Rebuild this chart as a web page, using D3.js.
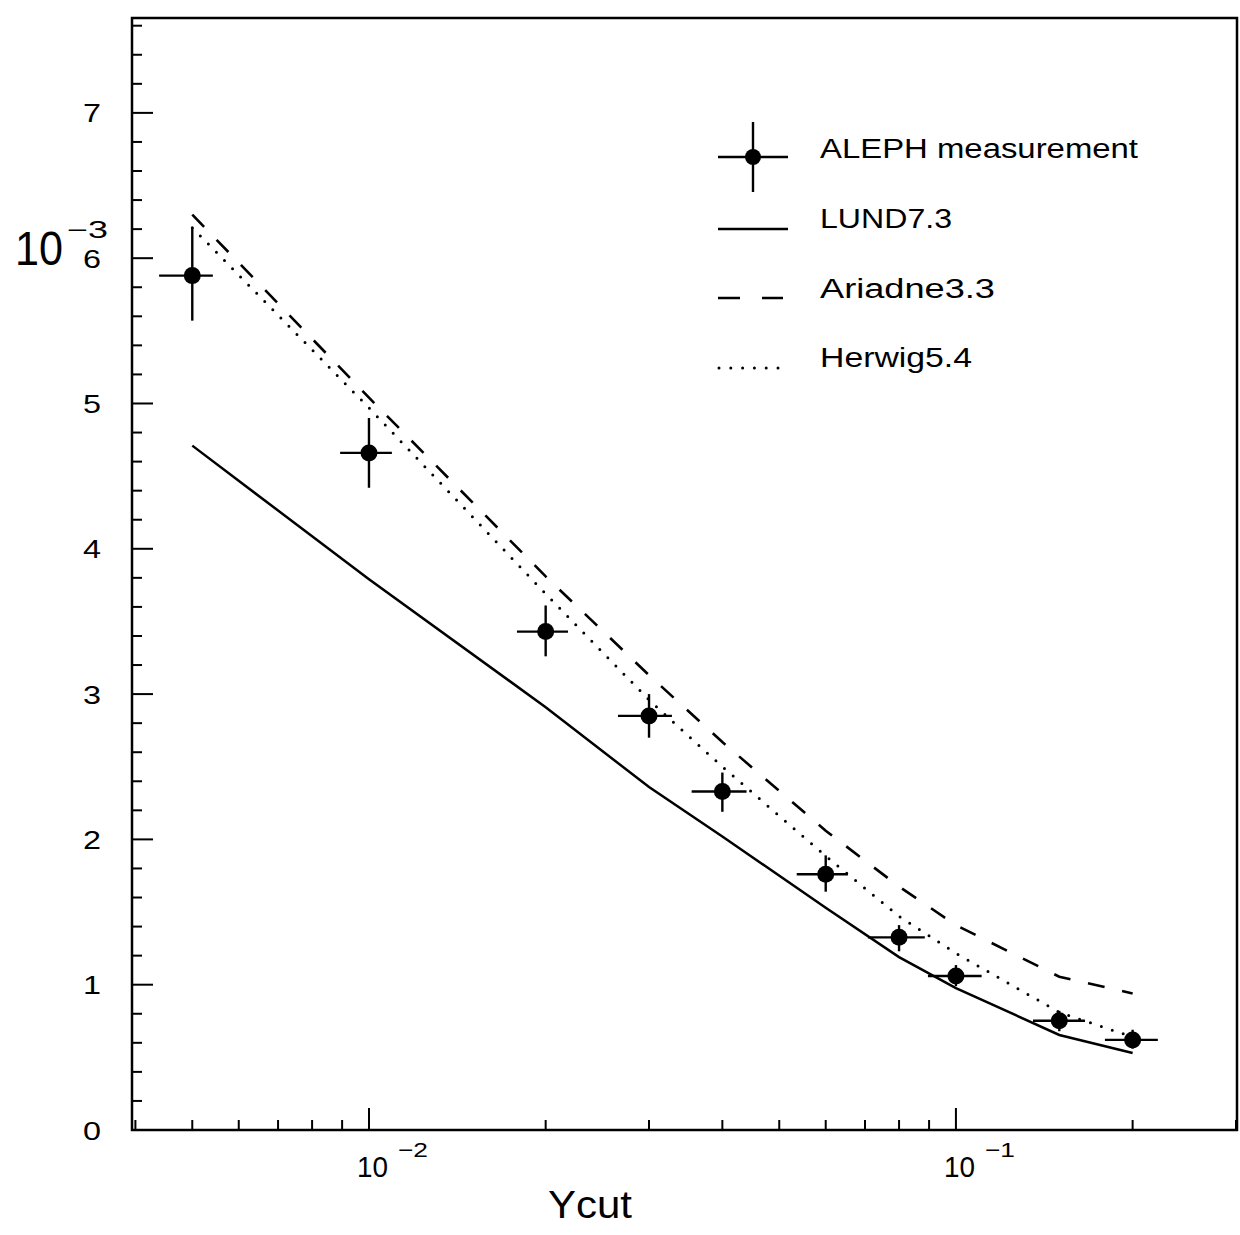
<!DOCTYPE html>
<html><head><meta charset="utf-8">
<script src="https://cdn.jsdelivr.net/npm/d3@7/dist/d3.min.js"></script>
<style>body{margin:0;background:#fff}svg{display:block}text{font-family:"Liberation Sans",Arial,sans-serif;fill:#000}</style>
</head><body><svg id="c" width="1240" height="1235"></svg>
<script>
// ---- data ----
const ycut = [0.005,0.01,0.02,0.03,0.04,0.06,0.08,0.1,0.15,0.2];
const aleph = [5.88,4.66,3.43,2.85,2.33,1.76,1.326,1.06,0.752,0.62];
const alephHi = [6.21,4.90,3.61,3.00,2.46,1.89,1.41,1.135,0.82,0.69];
const alephLo = [5.57,4.42,3.26,2.70,2.19,1.64,1.23,0.99,0.68,0.56];
const binLo = [0.00439,0.00893,0.01787,0.02656,0.03546,0.05355,0.0708,0.0896,0.1353,0.1794];
const binHi = [0.00542,0.01094,0.02183,0.03282,0.04398,0.06546,0.0885,0.1106,0.1659,0.2208];
const lund = [4.71,3.79,2.91,2.36,2.02,1.53,1.19,0.977,0.654,0.53];
const ariadne = [6.30,5.04,3.81,3.13,2.67,2.06,1.675,1.41,1.055,0.94];
const herwig = [6.21,4.97,3.69,2.96,2.50,1.886,1.47,1.216,0.81,0.64];
const yTicks = [0,1,2,3,4,5,6,7];
const xMajor = [0.01,0.1];
const xMajorExp = ["−2","−1"];
const legendLabels = ["ALEPH measurement","LUND7.3","Ariadne3.3","Herwig5.4"];

// ---- scales ----
const L=132,R=1237,T=18,B=1130;
const x = d3.scaleLog().domain([0.003947,0.3012]).range([L,R]);
const y = d3.scaleLinear().domain([0,7.653]).range([B,T]);
const svg = d3.select("#c");
const g = svg.append("g");

// frame
g.append("rect").attr("x",L).attr("y",T).attr("width",R-L).attr("height",B-T)
 .attr("fill","none").attr("stroke","#000").attr("stroke-width",2.5);

// y ticks
const yMinor = d3.range(0,7.61,0.2);
g.selectAll(".ymt").data(yMinor).enter().append("line")
 .attr("x1",L).attr("x2",d=>Math.abs(d-Math.round(d))<1e-6?L+21:L+10)
 .attr("y1",d=>y(d)).attr("y2",d=>y(d)).attr("stroke","#000").attr("stroke-width",2);
g.selectAll(".ytl").data(yTicks).enter().append("text")
 .attr("x",83).attr("y",d=>y(d)+9.5)
 .attr("font-size",26).attr("textLength",18).attr("lengthAdjust","spacingAndGlyphs").text(d=>d);
// 10^-3 multiplier
g.append("text").attr("x",15).attr("y",265).attr("font-size",48)
 .attr("textLength",48).attr("lengthAdjust","spacingAndGlyphs").text("10");
g.append("text").attr("x",67).attr("y",238).attr("font-size",23)
 .attr("textLength",41).attr("lengthAdjust","spacingAndGlyphs").text("−3");

// x ticks
const xMinor = [];
[0.001,0.01,0.1].forEach(dec=>{for(let k=1;k<10;k++){const v=dec*k; if(v>=x.domain()[0]&&v<=x.domain()[1]) xMinor.push(v);}});
g.selectAll(".xmt").data(xMinor).enter().append("line")
 .attr("x1",d=>x(d)).attr("x2",d=>x(d))
 .attr("y1",B).attr("y2",d=>xMajor.some(m=>Math.abs(m-d)/m<1e-6)?B-22:B-10)
 .attr("stroke","#000").attr("stroke-width",2);
xMajor.forEach((v,i)=>{
  g.append("text").attr("x",x(v)-12).attr("y",1177).attr("font-size",30)
   .attr("textLength",31).attr("lengthAdjust","spacingAndGlyphs").text("10");
  g.append("text").attr("x",x(v)+29).attr("y",1157).attr("font-size",21)
   .attr("textLength",30).attr("lengthAdjust","spacingAndGlyphs").text(xMajorExp[i]);
});
g.append("text").attr("x",548).attr("y",1218).attr("font-size",39)
 .attr("textLength",84).attr("lengthAdjust","spacingAndGlyphs").text("Ycut");

// model curves
const line = d3.line().x((d,i)=>x(ycut[i])).y(d=>y(d));
g.append("path").attr("d",line(lund)).attr("fill","none").attr("stroke","#000").attr("stroke-width",2.5);
g.append("path").attr("d",line(ariadne)).attr("fill","none").attr("stroke","#000").attr("stroke-width",2.6)
 .attr("stroke-dasharray","17,18");
g.append("path").attr("d",line(herwig)).attr("fill","none").attr("stroke","#000").attr("stroke-width",3)
 .attr("stroke-linecap","round").attr("stroke-dasharray","0,11.5");

// data points
const pts = g.append("g");
ycut.forEach((v,i)=>{
  pts.append("line").attr("x1",x(binLo[i])).attr("x2",x(binHi[i])).attr("y1",y(aleph[i])).attr("y2",y(aleph[i]))
   .attr("stroke","#000").attr("stroke-width",2.4);
  pts.append("line").attr("x1",x(v)).attr("x2",x(v)).attr("y1",y(alephLo[i])).attr("y2",y(alephHi[i]))
   .attr("stroke","#000").attr("stroke-width",2.4);
  pts.append("circle").attr("cx",x(v)).attr("cy",y(aleph[i])).attr("r",8.5).attr("fill","#000");
});

// legend
const lg = g.append("g");
const lx1=718, lx2=788, tx=820;
const rowsY=[157,229,298,368];
lg.append("line").attr("x1",lx1).attr("x2",lx2).attr("y1",rowsY[0]).attr("y2",rowsY[0]).attr("stroke","#000").attr("stroke-width",2.4);
lg.append("line").attr("x1",753).attr("x2",753).attr("y1",122).attr("y2",192).attr("stroke","#000").attr("stroke-width",2.4);
lg.append("circle").attr("cx",753).attr("cy",rowsY[0]).attr("r",8).attr("fill","#000");
lg.append("line").attr("x1",lx1).attr("x2",lx2).attr("y1",rowsY[1]).attr("y2",rowsY[1]).attr("stroke","#000").attr("stroke-width",2.5);
lg.append("line").attr("x1",lx1).attr("x2",lx2-5).attr("y1",rowsY[2]).attr("y2",rowsY[2]).attr("stroke","#000").attr("stroke-width",2.6).attr("stroke-dasharray","22,22");
lg.append("line").attr("x1",lx1+1).attr("x2",lx2-8).attr("y1",rowsY[3]).attr("y2",rowsY[3]).attr("stroke","#000").attr("stroke-width",3).attr("stroke-linecap","round").attr("stroke-dasharray","0,11.8");
const tLen=[318,132,175,152], tBase=[158,228,298,367];
legendLabels.forEach((t,i)=>{
  lg.append("text").attr("x",tx).attr("y",tBase[i]).attr("font-size",27)
   .attr("textLength",tLen[i]).attr("lengthAdjust","spacingAndGlyphs").text(t);
});
</script></body></html>
